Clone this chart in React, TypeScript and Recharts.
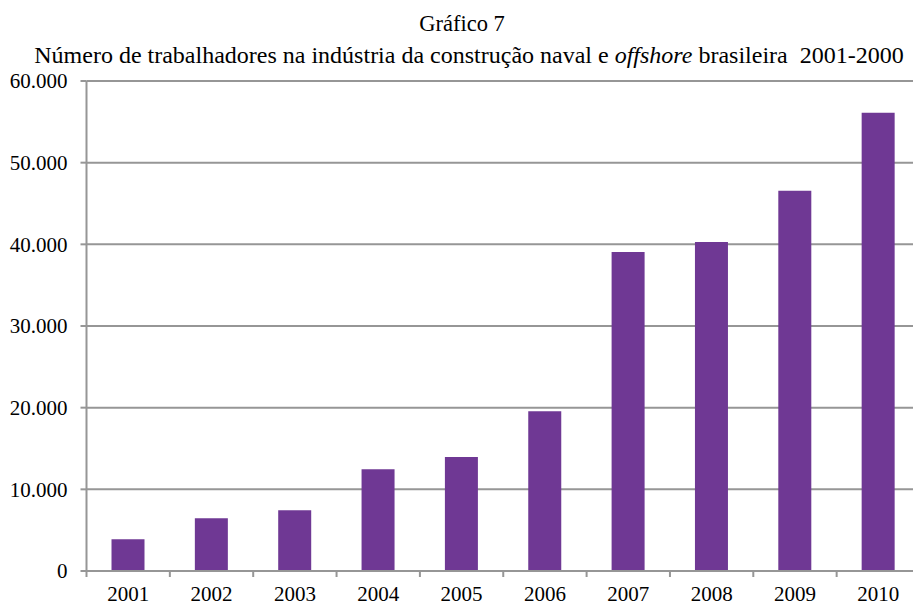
import React from "react";
import { BarChart, Bar, XAxis, YAxis, CartesianGrid } from "recharts";

const years = ["2001", "2002", "2003", "2004", "2005", "2006", "2007", "2008", "2009", "2010"];
const workers = [3900, 6450, 7450, 12450, 13950, 19550, 39050, 40300, 46550, 56100];
const yTicks = [0, 10000, 20000, 30000, 40000, 50000, 60000];

const FONT = '"Liberation Serif", serif';
const GRID = "#969696";
const BAR = "#6f3894";
const LABEL_GAP = 15;

function formatThousands(v: number): string {
  return String(v).replace(/\B(?=(\d{3})+(?!\d))/g, ".");
}

// category tick: label at the band centre, tick marks at the band edges
function YearTick(props: any) {
  const { x, y, payload, index } = props;
  const half = payload?.offset ?? 0;
  const last = index === years.length - 1;
  const top = y - LABEL_GAP;
  return (
    <g>
      <line x1={x - half} x2={x - half} y1={top} y2={top + 6} stroke={GRID} strokeWidth={2} />
      {last && <line x1={x + half} x2={x + half} y1={top} y2={top + 6} stroke={GRID} strokeWidth={2} />}
      <text x={x} y={y} dy="0.71em" textAnchor="middle" fill="#000" style={{ fontFamily: FONT, fontSize: 21 }}>
        {payload.value}
      </text>
    </g>
  );
}

export default function App() {
  const data = years.map((ano, i) => ({ ano, valor: workers[i] }));

  return (
    <div
      style={{
        position: "absolute",
        left: 0,
        top: 0,
        width: 913,
        height: 605,
        overflow: "hidden",
        background: "#fff",
        fontFamily: FONT,
      }}
    >
      <BarChart
        width={925}
        height={605}
        data={data}
        margin={{ top: 81, right: 5, bottom: 0, left: 0 }}
        barCategoryGap="30%"
      >
        <CartesianGrid vertical={false} stroke={GRID} strokeWidth={2} />
        <XAxis
          dataKey="ano"
          height={34}
          tickLine={false}
          tickSize={0}
          tickMargin={LABEL_GAP}
          axisLine={{ stroke: GRID, strokeWidth: 2 }}
          tick={<YearTick />}
          interval={0}
        />
        <YAxis
          width={86.5}
          domain={[0, 60000]}
          ticks={yTicks}
          tickFormatter={formatThousands}
          axisLine={{ stroke: GRID, strokeWidth: 2 }}
          tickLine={{ stroke: GRID, strokeWidth: 2 }}
          tickSize={6}
          tickMargin={13}
          tick={{ fill: "#000", fontSize: 21, fontFamily: FONT }}
        />
        <Bar dataKey="valor" fill={BAR} isAnimationActive={false} />
      </BarChart>
      <svg width={913} height={75} style={{ position: "absolute", left: 0, top: 0 }}>
        <text x={462} y={31} textAnchor="middle" fill="#000" style={{ fontFamily: FONT, fontSize: 22.5 }}>
          Gráfico 7
        </text>
        <text x={469} y={63} textAnchor="middle" fill="#000" style={{ fontFamily: FONT, fontSize: 24, whiteSpace: "pre" }}>
          {"Número de trabalhadores na indústria da construção naval e "}
          <tspan fontStyle="italic">offshore</tspan>
          {" brasileira  2001-2000"}
        </text>
      </svg>
    </div>
  );
}
